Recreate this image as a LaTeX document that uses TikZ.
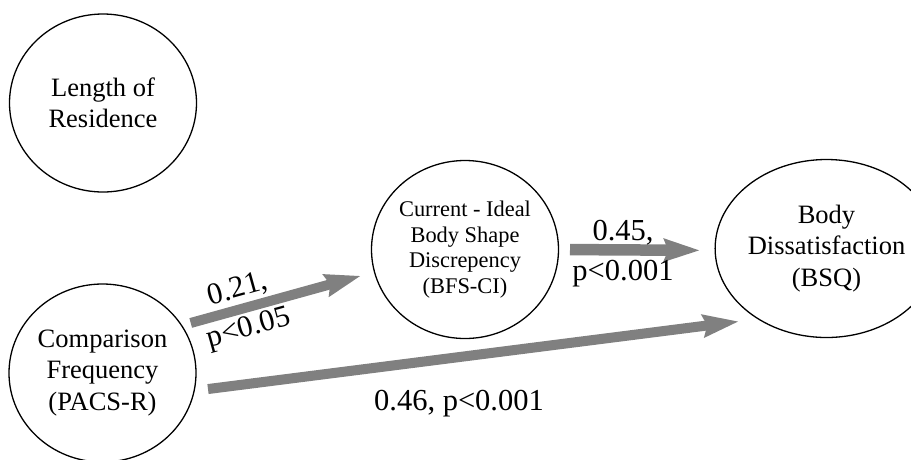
\documentclass[tikz,border=0pt]{standalone}
\usepackage{fontspec}
\setmainfont{Liberation Serif}
\usetikzlibrary{arrows.meta, shapes.geometric}

\begin{document}
\begin{tikzpicture}
  [
    x=1pt, y=-1pt,
    var/.style={draw, ellipse, line width=1.3pt, inner sep=0pt, outer sep=0pt,
      minimum width=187pt, minimum height=178pt, align=center,
      font=\fontsize{26.5}{31.5}\selectfont},
    effect/.style={gray, line width=10pt,
      -{Stealth[length=36pt, width=24pt, inset=5pt, line width=0pt]}},
    coef/.style={align=center, inner sep=0pt, font=\fontsize{30.5}{40.5}\selectfont}
  ]
  \useasboundingbox (0,0) rectangle (911,459);
  % variables
  \node [var] (lor) at (103,103) {Length of\\Residence};
  \node [var] (pacs) at (102.5,373) {Comparison\\Frequency\\(PACS-R)};
  \node [var, font=\fontsize{22.4}{25.7}\selectfont] (bfs) at (465,249.5)
    {Current - Ideal\\Body Shape\\Discrepency\\(BFS-CI)};
  \node [var] (bsq) at (826.5,248.5) {Body\\Dissatisfaction\\(BSQ)};
  % paths
  \draw [effect, shorten <=9.5pt, shorten >=15pt] (pacs.31.8) -- (bfs.194);
  \draw [effect, line width=11.5pt, shorten <=11.5pt, shorten >=16pt] (bfs.0) -- (bsq.181);
  \draw [effect, shorten <=14pt, shorten >=20.6pt] (pacs.-11.7) -- (bsq.226.2);
  % coefficients
  \node [coef, rotate=15.5] (c1) at (243.5,309.8) {0.21,\\p<0.05};
  \node [coef] (c2) at (623,253.5) {0.45,\\p<0.001};
  \node [coef] (c3) at (459,403.3) {0.46, p<0.001};
\end{tikzpicture}
\end{document}
